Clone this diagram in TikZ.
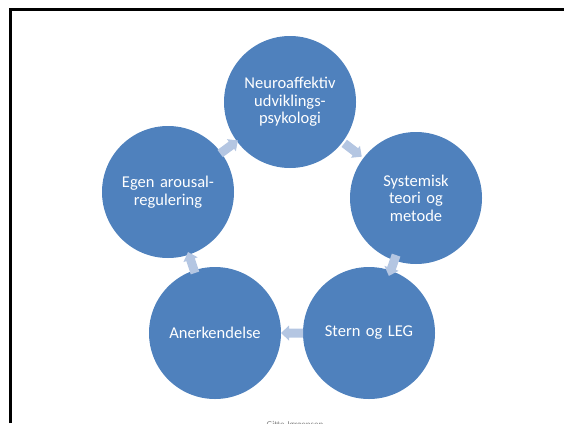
\documentclass[tikz,border=0pt]{standalone}
\usepackage{fontspec}
\setmainfont{Carlito}
\usetikzlibrary{calc}

\definecolor{topicblue}{RGB}{79,129,189}
\definecolor{arrowblue}{RGB}{180,198,226}

\begin{document}
\begin{tikzpicture}[
    x=1pt, y=-1pt,
    topicnode/.style={circle, fill=topicblue, minimum size=132pt, inner sep=0pt, text width=118pt, align=center, text=white, font=\fontsize{16.5}{17.5}\selectfont},
    cyclearrow/.style={fill=arrowblue} % small block arrow between circles
]
\useasboundingbox (0,0) rectangle (564,423);
\clip (0,0) rectangle (564,423);

% --- Slide frame ---
\draw[line width=3.5pt] (10.7,423) -- (10.7,9.3) -- (564,9.3);

% --- Topics round the cycle ---
\node[topicnode] (neuro) at (290,102) {Neuroaffektiv\\udviklings-\\psykologi};
\node[topicnode] (system) at (416,198) {Systemisk\\teori og\\metode};
\node[topicnode] (stern) at (369,333) {Stern og LEG};
\node[topicnode] (anerk) at (215,333) {Anerkendelse};
\node[topicnode] (arousal) at (168,192) {Egen arousal-\\regulering};

% --- Arrows, clockwise ---
\foreach \a/\b in {neuro/system,system/stern,stern/anerk,anerk/arousal,arousal/neuro}{
  \path let \p1=($(\b)-(\a)$), \n1={atan2(\y1,\x1)} in
    [shift={($(\a)!0.5!(\b)$)}, rotate=\n1]
    (-11,-4.5) -- (3,-4.5) -- (3,-7.5) -- (11,0) -- (3,7.5) -- (3,4.5) -- (-11,4.5) -- cycle
    [cyclearrow];
}

% --- Footer ---
\node[text=gray, font=\fontsize{9}{11}\selectfont, anchor=north] (footer) at (295,418) {Gitte Jørgensen};

\end{tikzpicture}
\end{document}
